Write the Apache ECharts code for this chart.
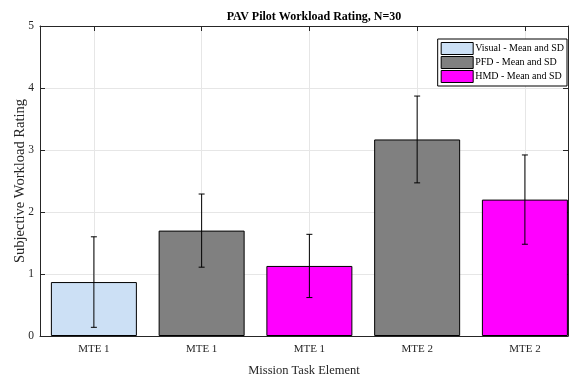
<!DOCTYPE html>
<html>
<head>
<meta charset="utf-8">
<script src="https://cdn.jsdelivr.net/npm/echarts@6/dist/echarts.min.js"></script>
<style>
  html, body { margin: 0; padding: 0; background: #fff; }
  #chart { width: 576px; height: 377px; }
</style>
</head>
<body>
<div id="chart"></div>
<script>
// Mission task elements, one bar each
const categories = ['MTE 1', 'MTE 1', 'MTE 1', 'MTE 2', 'MTE 2'];
const positions = [1, 2, 3, 4, 5];
// Display condition of each bar (index into seriesNames)
const barGroup = [0, 1, 2, 1, 2];
const seriesNames = ['Visual - Mean and SD', 'PFD - Mean and SD', 'HMD - Mean and SD'];
// Mean workload rating and standard deviation per bar
const means = [0.87, 1.70, 1.13, 3.17, 2.20];
const sds = [0.73, 0.59, 0.51, 0.70, 0.72];
const yTicks = [0, 1, 2, 3, 4, 5];

const colors = ['#cce0f5', '#808080', '#ff00ff'];
const font = 'Liberation Serif, Times New Roman, serif';
const axisColor = '#262626';

const barSeries = seriesNames.map((name, g) => ({
  name: name,
  type: 'bar',
  barWidth: 86,
  barGap: '-100%',
  itemStyle: { color: colors[g], borderColor: '#000', borderWidth: 1 },
  emphasis: { disabled: true },
  z: 2,
  data: positions.map((p, i) => barGroup[i] === g ? [p, means[i]] : [p, null])
}));

const errorSeries = {
  type: 'custom',
  silent: true,
  z: 5,
  data: positions.map((p, i) => [p, means[i] - sds[i], means[i] + sds[i]]),
  renderItem: function (params, api) {
    const lo = api.coord([api.value(0), api.value(1)]);
    const hi = api.coord([api.value(0), api.value(2)]);
    const cap = 3;
    const style = { stroke: '#000', lineWidth: 1 };
    return {
      type: 'group',
      children: [
        { type: 'line', shape: { x1: lo[0], y1: lo[1], x2: hi[0], y2: hi[1] }, style: style },
        { type: 'line', shape: { x1: hi[0] - cap, y1: hi[1], x2: hi[0] + cap, y2: hi[1] }, style: style },
        { type: 'line', shape: { x1: lo[0] - cap, y1: lo[1], x2: lo[0] + cap, y2: lo[1] }, style: style }
      ]
    };
  }
};

const chart = echarts.init(document.getElementById('chart'));
chart.setOption({
  animation: false,
  backgroundColor: '#fff',
  title: {
    text: 'PAV Pilot Workload Rating, N=30',
    left: 309, top: 6, textAlign: 'center',
    textStyle: { fontFamily: font, fontSize: 12, fontWeight: 'bold', color: '#000' }
  },
  legend: {
    orient: 'vertical',
    right: 9, top: 39,
    itemWidth: 32, itemHeight: 12, itemGap: 1,
    padding: [3, 3, 3, 3],
    borderColor: '#000', borderWidth: 1,
    backgroundColor: '#fff',
    icon: 'rect',
    selectedMode: false,
    itemStyle: { borderWidth: 1, borderColor: '#000' },
    data: seriesNames,
    textStyle: { fontFamily: font, fontSize: 10, lineHeight: 12, color: '#000', padding: [0, 0, 0, -3] }
  },
  grid: { left: 40, right: 8, top: 26, bottom: 41, containLabel: false, outerBoundsMode: 'none' },
  xAxis: [
    {
      type: 'value', min: 0.5, max: 5.4, position: 'bottom',
      name: 'Mission Task Element', nameLocation: 'middle', nameGap: 28, nameMoveOverlap: false,
      nameTextStyle: { fontFamily: font, fontSize: 12.5, color: axisColor },
      axisLine: { show: true, lineStyle: { color: axisColor, width: 1 } },
      axisTick: { show: true, inside: true, length: 5, customValues: positions, lineStyle: { color: axisColor } },
      axisLabel: {
        customValues: positions, margin: 8,
        fontFamily: font, fontSize: 11, color: axisColor,
        formatter: v => categories[positions.indexOf(Math.round(v))] || ''
      },
      splitLine: { show: true, lineStyle: { color: '#e6e6e6', width: 1 } }
    },
    {
      type: 'value', min: 0.5, max: 5.4, position: 'top',
      axisLine: { show: true, onZero: false, lineStyle: { color: axisColor, width: 1 } },
      axisTick: { show: true, inside: true, length: 5, customValues: positions, lineStyle: { color: axisColor } },
      axisLabel: { show: false },
      splitLine: { show: false }
    }
  ],
  yAxis: [
    {
      type: 'value', min: yTicks[0], max: yTicks[yTicks.length - 1], interval: 1,
      name: 'Subjective Workload Rating', nameLocation: 'middle', nameGap: 12, nameRotate: 90,
      nameMoveOverlap: false,
      nameTextStyle: { fontFamily: font, fontSize: 14.5, color: axisColor },
      axisLine: { show: true, lineStyle: { color: axisColor, width: 1 } },
      axisTick: { show: true, inside: true, length: 5, lineStyle: { color: axisColor } },
      axisLabel: { margin: 6, fontFamily: font, fontSize: 11.5, color: axisColor },
      splitLine: { show: true, lineStyle: { color: '#e6e6e6', width: 1 } }
    },
    {
      type: 'value', min: yTicks[0], max: yTicks[yTicks.length - 1], interval: 1, position: 'right',
      axisLine: { show: true, onZero: false, lineStyle: { color: axisColor, width: 1 } },
      axisTick: { show: true, inside: true, length: 5, lineStyle: { color: axisColor } },
      axisLabel: { show: false },
      splitLine: { show: false }
    }
  ],
  series: barSeries.concat([errorSeries])
});
</script>
</body>
</html>
